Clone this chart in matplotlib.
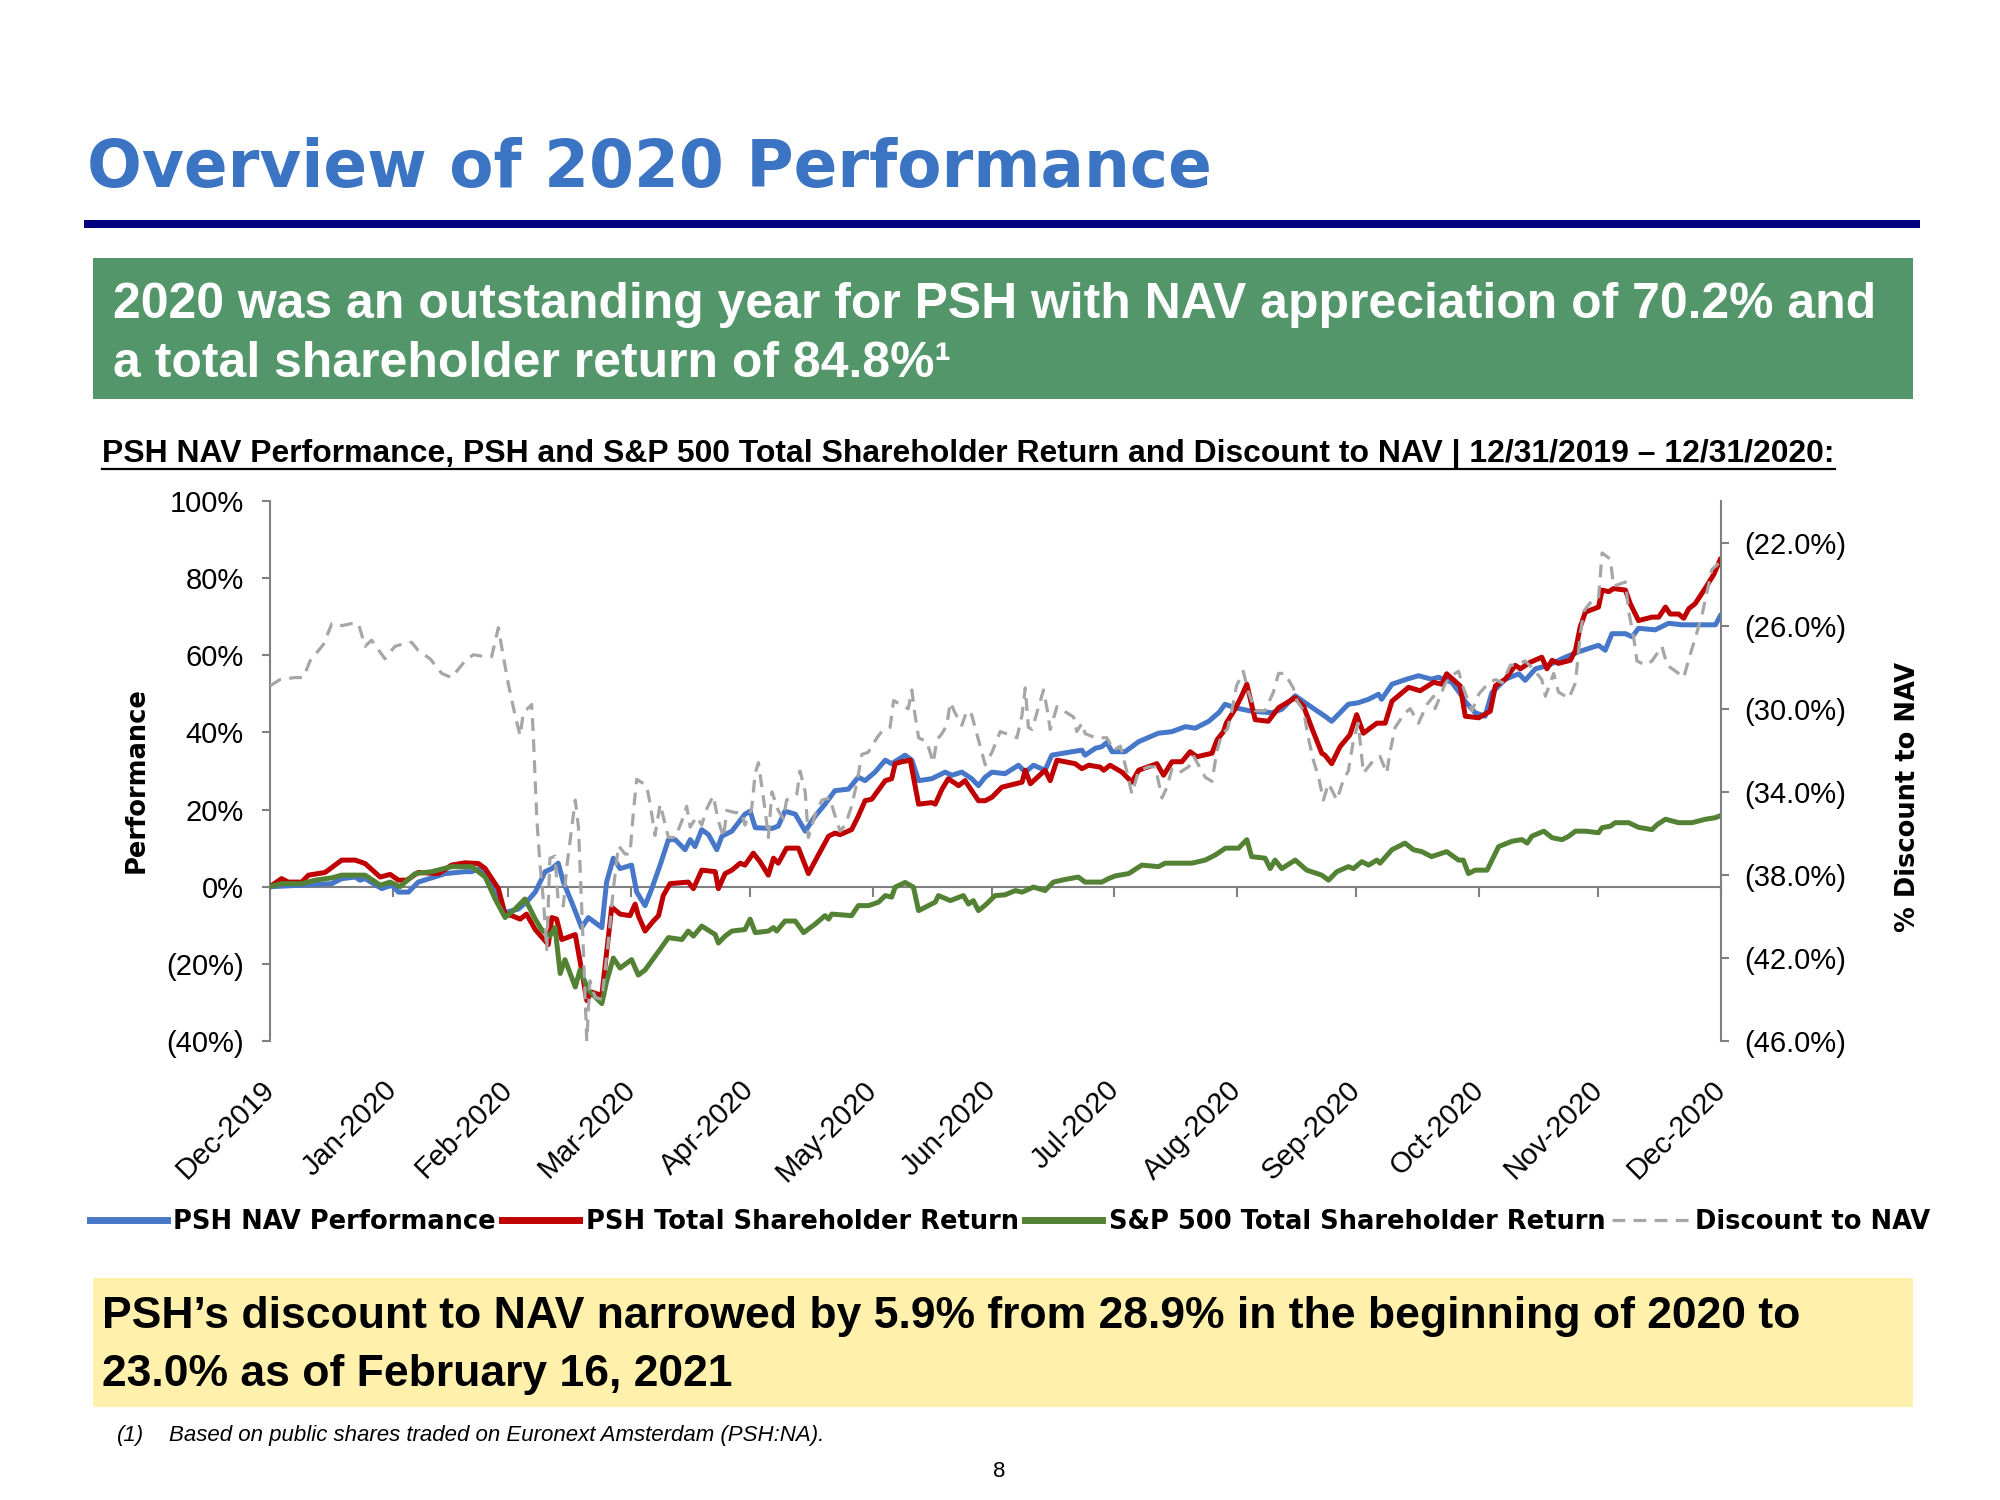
import numpy as np
import pandas as pd
import matplotlib
matplotlib.use('Agg')
import matplotlib.pyplot as plt
import matplotlib.dates as mdates
from matplotlib.patches import Rectangle
from matplotlib.lines import Line2D
from matplotlib.ticker import FuncFormatter

# days after 12/31/2019, value in %
nav_perf = [(0, 0), (8.0, 0.4), (15.6, 0.8), (18.1, 2.1), (21.5, 2.5), (22.7, 1.7), (24.0, 2.1), (28.2, -0.5),
            (30.7, 0.4), (32.4, -1.4), (34.9, -1.4), (37.4, 1.2), (44.2, 3.4), (49.2, 3.9), (50.9, 3.9),
            (52.6, 4.7), (54.3, 3.0), (57.6, -3.2),
            (59.3, -6.7), (62.6, -5.8), (64.7, -4.0), (66.9, -1.4), (69.4, 3.9), (71.1, 4.7), (72.7, 6.1),
            (74.0, 1.2), (76.1, -4.0), (78.6, -10.6), (80.3, -8.0), (83.7, -10.6), (84.9, 1.2), (86.6, 7.4),
            (88.3, 4.7), (91.2, 5.6), (92.5, -1.4), (94.6, -4.9), (96.3, -0.5), (98.4, 5.6), (100.5, 12.2),
            (102.2, 12.2), (104.7, 9.6), (106.0, 12.2), (107.2, 10.4), (108.9, 14.8), (110.6, 13.5),
            (112.7, 9.6), (114.0, 13.1), (116.5, 14.4),
            (119.8, 18.8), (121.1, 19.6), (122.4, 15.3), (126.6, 15.1), (128.2, 15.7), (129.9, 19.6),
            (132.5, 18.8), (135.0, 14.4), (137.5, 18.3), (140.0, 21.4), (142.5, 24.9), (145.9, 25.3),
            (148.4, 28.4), (150.1, 27.5), (152.6, 29.7), (155.2, 32.8), (156.8, 31.9), (160.2, 34.1),
            (161.9, 32.8), (163.6, 27.5), (166.9, 28.0), (170.3, 29.7), (172.0, 28.9), (174.5, 29.7),
            (177.0, 28.0), (178.7, 26.2),
            (180.4, 28.4), (182.1, 29.7), (185.4, 29.3), (188.8, 31.5), (190.5, 29.7), (192.6, 31.5),
            (195.5, 30.2), (197.2, 34.1), (202.3, 35.0), (204.8, 35.4), (205.6, 34.1), (208.2, 35.9),
            (209.8, 36.3), (211.1, 37.4), (212.4, 35.0), (215.7, 35.0), (219.1, 37.6), (224.1, 39.8),
            (227.5, 40.2), (230.9, 41.5), (233.4, 41.1), (236.8, 42.9), (239.3, 45.1),
            (240.9, 47.3), (243.4, 46.4), (247.6, 45.5), (252.7, 45.1), (255.2, 46.0), (258.6, 49.5),
            (261.1, 47.7), (266.1, 44.2), (267.8, 42.9), (272.0, 47.3), (274.5, 47.7), (277.1, 48.6),
            (279.6, 49.9), (280.4, 48.6), (283.0, 52.5), (286.7, 53.8), (289.7, 54.7), (293.0, 53.8),
            (294.7, 54.3), (298.1, 53.0), (300.6, 49.5),
            (301.5, 48.0), (304.0, 45.1), (306.5, 44.2), (308.2, 50.3), (311.6, 53.8), (315.0, 55.2),
            (316.6, 53.5), (319.2, 56.5), (322.5, 57.4), (326.7, 59.5), (330.1, 60.9), (335.1, 62.6),
            (336.8, 61.3), (338.5, 65.6), (341.9, 65.6), (343.6, 64.8), (345.2, 67.0), (349.4, 66.6),
            (352.8, 68.3), (356.2, 67.9), (364.6, 67.9), (365.8, 70.2)]

psh_tsr = [(0, 0), (2.9, 2.1), (4.6, 1.2), (8.0, 1.2), (9.7, 3.0), (13.9, 3.7), (18.1, 6.9), (21.5, 6.9),
           (24.0, 6.0), (27.8, 2.5), (30.3, 3.2), (32.4, 1.7), (34.5, 1.7), (37.4, 3.7), (42.5, 3.4),
           (45.8, 5.6), (49.2, 6.2), (52.6, 6.0), (54.3, 4.7), (57.6, -0.5),
           (59.3, -7.1), (61.0, -7.5), (63.1, -8.4), (64.7, -7.1), (66.9, -11.1), (70.2, -15.0),
           (71.1, -8.0), (72.3, -8.4), (73.6, -13.7), (77.0, -12.4), (78.6, -21.6), (79.9, -29.5),
           (81.1, -27.3), (83.7, -28.2), (84.5, -20.7), (86.2, -5.3), (88.3, -7.1), (90.8, -7.5),
           (92.1, -4.5), (92.9, -7.5), (94.6, -11.5), (96.7, -8.9), (98.0, -7.5), (99.2, -2.3),
           (100.9, 0.8), (105.5, 1.2), (106.8, -0.5), (108.9, 4.3), (112.3, 3.9), (113.1, -0.5),
           (114.8, 3.4), (116.5, 4.3), (118.6, 6.1),
           (119.8, 5.6), (121.9, 8.7), (123.6, 6.5), (125.7, 3.0), (127.0, 7.4), (128.2, 6.1), (130.3, 10.0),
           (133.3, 10.0), (135.8, 3.4), (138.3, 8.2), (140.9, 13.1), (142.5, 13.9), (143.8, 13.5),
           (146.7, 14.8), (148.4, 18.3), (150.1, 22.3), (151.8, 22.7), (155.2, 27.5), (156.8, 28.0),
           (157.7, 31.9), (159.4, 32.4), (161.5, 32.8), (163.6, 21.4), (166.9, 21.8), (167.8, 21.4),
           (169.5, 25.3), (171.1, 28.0), (173.7, 26.2), (175.3, 27.5), (178.7, 22.3),
           (180.4, 22.3), (182.1, 23.2), (184.6, 25.8), (189.7, 27.1), (190.5, 30.2), (191.8, 26.7),
           (195.5, 30.2), (196.8, 27.5), (198.5, 32.8), (203.1, 31.9), (204.8, 30.6), (206.5, 31.5),
           (209.4, 31.0), (210.3, 30.2), (211.9, 31.5), (214.9, 29.7), (217.4, 27.1), (219.1, 30.2),
           (223.7, 31.9), (225.4, 28.9), (227.5, 32.4), (230.0, 32.4), (232.1, 35.0), (233.8, 33.7),
           (237.6, 34.6), (238.9, 38.1), (240.5, 40.2),
           (241.2, 42.4), (243.4, 46.0), (245.1, 49.5), (246.4, 52.5), (248.5, 43.3), (251.8, 42.9),
           (254.4, 46.4), (258.6, 49.0), (260.7, 46.8), (262.8, 41.1), (265.3, 34.6), (266.1, 34.1),
           (267.8, 31.9), (269.9, 36.3), (272.4, 39.4), (274.1, 44.6), (275.8, 39.8), (279.2, 42.4),
           (281.3, 42.4), (283.0, 48.1), (287.2, 51.7), (290.1, 50.8), (293.5, 53.0), (295.6, 52.5),
           (296.8, 55.2), (300.2, 52.1),
           (301.5, 44.2), (304.9, 43.8), (307.8, 45.5), (309.1, 52.1), (311.6, 53.8), (314.1, 57.4),
           (315.4, 56.5), (317.9, 58.2), (320.8, 59.5), (322.1, 56.5), (323.4, 58.7), (325.0, 57.9),
           (328.0, 58.7), (329.3, 61.3), (330.5, 67.4), (331.8, 71.2), (335.1, 72.5), (336.0, 76.9),
           (337.7, 76.5), (338.9, 77.3), (341.9, 76.9), (343.1, 73.4), (345.2, 69.0), (348.6, 69.9),
           (350.3, 69.9), (352.0, 72.5), (353.2, 70.7), (355.3, 70.7), (356.6, 69.6), (357.9, 72.1),
           (359.5, 73.4), (362.1, 77.5), (364.2, 81.0), (365.8, 84.8)]

spx_tsr = [(0, 0), (2.9, 0.8), (8.0, 0.8), (11.4, 1.7), (15.6, 2.3), (18.1, 3.0), (24.0, 3.0), (27.8, 0.4),
           (30.3, 1.2), (32.8, 0.0), (36.6, 3.4), (40.8, 3.9), (45.8, 5.2), (50.9, 5.2), (54.3, 2.5),
           (56.8, -3.2),
           (59.3, -8.0), (61.8, -5.8), (64.3, -3.2), (65.2, -4.9), (66.9, -8.4), (68.5, -11.1),
           (70.6, -12.8), (71.9, -10.6), (73.2, -22.5), (74.4, -18.9), (77.0, -26.0), (78.2, -21.6),
           (80.3, -26.8), (83.7, -30.3), (84.9, -24.6), (86.6, -18.5), (88.3, -21.1), (91.2, -18.9),
           (92.9, -22.9), (94.6, -21.6), (98.0, -16.8), (100.5, -13.2), (103.9, -13.7), (105.5, -11.5),
           (106.8, -12.8), (108.9, -10.2), (112.3, -12.4), (113.1, -14.6), (114.8, -12.8), (116.5, -11.5),
           (119.8, -11.1), (121.1, -8.4), (122.4, -11.9), (125.7, -11.5), (127.0, -10.6), (127.8, -11.5),
           (129.9, -8.9), (132.5, -8.9), (134.6, -11.9), (137.5, -9.7), (140.0, -7.5), (140.9, -8.4),
           (141.7, -7.1), (146.7, -7.5), (148.4, -4.9), (151.0, -4.9), (153.5, -4.0), (155.2, -2.3),
           (156.8, -2.7), (157.7, -0.1), (160.2, 1.1), (162.3, -0.1), (163.6, -6.2), (167.8, -4.0),
           (168.6, -2.3), (171.6, -3.6), (174.9, -2.3), (176.2, -4.5), (177.4, -3.6), (178.7, -6.2),
           (180.4, -4.8), (182.9, -2.3), (185.4, -2.1), (188.0, -1.0), (189.7, -1.4), (192.6, -0.1),
           (195.5, -1.0), (197.6, 1.2), (200.6, 1.9), (203.9, 2.5), (205.6, 1.2), (209.8, 1.2),
           (211.5, 2.1), (213.2, 2.8), (216.6, 3.4), (219.9, 5.6), (224.1, 5.2), (225.8, 6.1),
           (232.5, 6.1), (235.9, 6.9), (238.4, 8.2), (241.0, 10.0),
           (244.3, 10.0), (246.4, 12.2), (247.6, 7.8), (251.0, 7.4), (252.3, 4.7), (253.5, 6.9),
           (255.2, 4.7), (258.6, 6.9), (261.5, 4.3), (265.3, 3.0), (267.0, 1.7), (269.1, 3.9),
           (272.0, 5.2), (273.3, 4.7), (275.4, 6.5), (277.1, 5.6), (279.2, 6.9), (280.0, 6.1),
           (283.0, 9.6), (286.3, 11.3), (288.4, 9.6), (290.5, 9.1), (293.0, 7.8), (296.8, 9.1),
           (299.8, 6.9), (301.0, 6.9),
           (302.3, 3.4), (304.0, 4.3), (307.0, 4.3), (309.9, 10.4), (313.3, 11.8), (315.8, 12.2),
           (317.1, 11.3), (318.3, 13.1), (321.3, 14.4), (323.4, 12.7), (325.9, 12.2), (327.6, 13.1),
           (329.3, 14.4), (331.8, 14.4), (335.1, 14.0), (336.0, 15.3), (338.1, 15.7), (339.3, 16.6),
           (342.7, 16.6), (345.2, 15.4), (348.6, 14.8), (349.9, 16.1), (352.0, 17.5), (355.3, 16.6),
           (358.7, 16.6), (362.1, 17.5), (364.6, 17.9), (365.8, 18.4)]

# discount to NAV (negative %), right axis
discount = [(0, -28.9), (2.5, -28.6), (6.3, -28.5), (8.4, -28.5), (10.1, -27.7), (13.5, -26.9), (15.6, -25.9),
            (18.1, -26.0), (20.6, -25.9), (22.3, -25.9), (24.0, -27.0), (25.6, -26.7), (29.0, -27.6),
            (31.5, -27.0), (33.2, -26.9), (35.7, -26.8), (37.4, -27.2), (40.4, -27.6), (43.3, -28.3),
            (45.8, -28.5), (49.2, -27.7), (51.3, -27.4), (54.3, -27.5), (55.9, -27.5), (57.6, -26.1),
            (58.5, -27.1),
            (60.1, -28.8), (61.8, -30.3), (63.1, -31.3), (63.9, -30.2), (66.0, -29.8), (66.4, -31.2),
            (67.3, -35.3), (68.1, -37.5), (69.0, -39.3), (69.8, -41.6), (70.6, -37.2), (71.9, -37.1),
            (72.7, -39.3), (74.0, -39.5), (74.8, -37.7), (77.0, -34.4), (77.8, -35.7), (78.8, -40.4),
            (79.9, -46.0), (80.7, -43.1), (82.0, -43.9), (83.7, -44.0), (85.4, -41.1), (86.6, -38.7),
            (87.9, -36.6), (89.6, -37.0), (90.8, -37.0), (91.7, -34.9), (92.5, -33.4), (95.0, -33.7),
            (95.9, -34.6), (97.1, -36.1), (98.4, -34.6), (99.2, -35.2), (100.5, -36.2), (102.2, -36.2),
            (103.9, -35.4), (105.1, -34.7), (106.0, -35.7), (107.6, -35.2), (108.9, -35.6), (110.2, -34.8),
            (111.8, -34.2), (113.1, -35.4), (114.4, -36.2), (115.2, -34.9), (117.3, -35.0), (119.0, -35.0),
            (119.8, -35.6), (121.5, -34.8), (122.4, -33.1), (123.2, -32.6), (124.0, -33.7), (124.9, -34.9),
            (125.7, -36.2), (126.6, -34.0), (128.2, -34.9), (129.5, -35.3), (130.3, -34.4), (132.9, -34.1),
            (133.7, -33.0), (135.0, -34.0), (135.8, -36.2), (137.5, -35.1), (139.2, -34.4), (141.3, -34.3),
            (142.1, -34.9), (143.8, -35.9), (145.1, -35.6), (146.7, -34.7), (148.0, -33.6), (149.3, -32.2),
            (150.9, -32.1), (153.1, -31.4), (154.3, -31.1), (156.4, -30.9), (157.3, -29.6), (158.9, -29.8),
            (161.0, -30.0), (161.9, -29.1), (162.7, -30.3), (163.6, -31.4), (165.7, -31.6), (167.3, -32.6),
            (168.2, -31.5), (169.5, -31.2), (170.7, -30.8), (171.6, -29.7), (172.8, -30.2), (174.5, -30.8),
            (175.8, -30.1), (177.0, -30.3), (178.7, -31.5),
            (180.4, -32.7), (182.1, -32.1), (184.2, -31.1), (187.1, -31.3), (188.4, -31.4), (189.7, -30.3),
            (190.5, -29.0), (191.3, -30.9), (192.2, -31.0), (193.9, -29.9), (195.1, -29.1), (196.0, -30.0),
            (196.8, -31.0), (198.5, -29.9), (202.7, -30.4), (203.5, -31.1), (204.8, -30.7), (205.6, -31.2),
            (208.2, -31.4), (211.1, -31.4), (212.8, -32.0), (214.5, -31.8), (216.1, -33.0), (217.4, -34.1),
            (219.1, -33.0), (221.6, -32.8), (223.3, -32.8), (225.0, -34.3), (226.2, -33.8), (227.5, -32.9),
            (229.2, -33.1), (231.7, -32.8), (233.0, -32.3), (235.9, -33.3), (237.6, -33.5), (238.9, -32.0),
            (240.1, -31.2),
            (241.5, -31.0), (242.6, -30.1), (243.8, -28.9), (245.5, -28.2), (246.8, -29.2), (248.5, -30.1),
            (251.0, -30.1), (253.1, -29.2), (254.4, -28.3), (256.0, -28.3), (258.1, -29.0), (259.0, -29.6),
            (260.7, -30.1), (261.9, -31.4), (263.2, -32.5), (264.5, -33.3), (265.7, -34.4), (267.0, -33.6),
            (269.1, -34.4), (270.8, -33.4), (272.0, -33.0), (273.3, -31.5), (274.5, -30.7), (275.8, -33.1),
            (278.3, -32.5), (280.0, -32.3), (281.7, -33.1), (282.5, -32.1), (283.8, -30.9), (286.3, -30.2),
            (287.6, -30.0), (289.7, -30.7), (291.8, -29.8), (293.5, -29.4), (293.9, -30.0), (296.4, -28.8),
            (298.1, -28.4), (299.8, -28.2), (301.0, -29.0),
            (303.2, -30.1), (304.9, -29.3), (307.4, -28.75), (309.1, -28.6), (310.8, -28.75), (312.9, -27.9),
            (314.1, -27.9), (316.6, -27.7), (318.7, -28.1), (320.8, -28.6), (321.7, -29.4), (323.8, -28.3),
            (325.0, -29.2), (327.6, -29.5), (329.3, -28.75), (330.5, -26.4), (331.4, -25.3), (333.0, -24.9),
            (335.1, -24.7), (336.0, -22.5), (338.1, -22.8), (338.9, -24.1), (341.9, -23.9), (342.7, -25.3),
            (344.0, -26.6), (344.8, -27.7), (346.9, -27.9), (348.6, -27.7), (351.1, -27.0), (352.4, -27.9),
            (355.3, -28.3), (356.6, -28.5), (357.9, -27.6), (359.5, -26.6), (361.2, -25.5), (363.7, -23.3),
            (365.4, -23.0)]

series_names = ['PSH NAV Performance', 'PSH Total Shareholder Return',
                'S&P 500 Total Shareholder Return', 'Discount to NAV']

start = pd.Timestamp('2019-12-31')
end = pd.Timestamp('2020-12-31')

TITLE_BLUE = '#3B74C2'
NAVY = '#000080'
BOX_GREEN = '#52966A'
BOX_YELLOW = '#FFF0AC'
NAV_BLUE = '#4677C8'
TSR_RED = '#C00000'
SPX_GREEN = '#548235'
DISC_GRAY = '#A6A6A6'
AXIS_GRAY = '#808080'

W, H = 2000, 1500
fig = plt.figure(figsize=(20, 15), dpi=100)
renderer = fig.canvas.get_renderer()


def fx(px):
    return px / W


def fy(py):
    return 1 - py / H


def fit_width(t, width_px):
    w = t.get_window_extent(renderer=renderer).width
    t.set_fontsize(t.get_fontsize() * width_px / w)


def to_xy(pairs):
    arr = np.array(pairs, dtype=float)
    return start + pd.to_timedelta(arr[:, 0], unit='D'), arr[:, 1]


# header
title = fig.text(fx(87), fy(187), 'Overview of 2020 Performance', family='DejaVu Sans',
                 fontweight='bold', fontsize=46, color=TITLE_BLUE, va='baseline')
fit_width(title, 1125)
fig.add_artist(Rectangle((fx(84), fy(228)), fx(1920 - 84), 8 / H, transform=fig.transFigure,
                         color=NAVY, lw=0))

# green banner
fig.add_artist(Rectangle((fx(93), fy(399)), fx(1820), 141 / H, transform=fig.transFigure,
                         color=BOX_GREEN, lw=0))
g1 = fig.text(fx(113), fy(318), '2020 was an outstanding year for PSH with NAV appreciation of 70.2% and',
              family='Liberation Sans', fontweight='bold', fontsize=30, color='white', va='baseline')
fit_width(g1, 1764)
fig.text(fx(113), fy(377), 'a total shareholder return of 84.8%\u00b9', family='Liberation Sans',
         fontweight='bold', fontsize=g1.get_fontsize(), color='white', va='baseline')

# chart subtitle with underline
sub = fig.text(fx(102), fy(462), 'PSH NAV Performance, PSH and S&P 500 Total Shareholder Return and '
               'Discount to NAV | 12/31/2019 \u2013 12/31/2020:',
               family='Liberation Sans', fontweight='bold', fontsize=24, va='baseline')
fit_width(sub, 1735)
bb = sub.get_window_extent(renderer=renderer)
fig.add_artist(Line2D([fx(bb.x0), fx(bb.x1)], [fy(469), fy(469)], transform=fig.transFigure,
                      color='black', lw=1.6))

# chart
ax = fig.add_axes([fx(270), fy(1041), fx(1721 - 270), (1041 - 501) / H])
ax2 = ax.twinx()

x, y = to_xy(nav_perf)
l1, = ax.plot(x, y, color=NAV_BLUE, lw=3.6, label=series_names[0], zorder=2)
x, y = to_xy(psh_tsr)
l2, = ax.plot(x, y, color=TSR_RED, lw=3.6, label=series_names[1], zorder=3)
x, y = to_xy(spx_tsr)
l3, = ax.plot(x, y, color=SPX_GREEN, lw=3.6, label=series_names[2], zorder=4)
x, y = to_xy(discount)
l4, = ax2.plot(x, y, color=DISC_GRAY, lw=2.3, dashes=(4, 2.6), label=series_names[3])

month_ends = pd.date_range(start, end, freq='ME')
ax.set_xlim(start, end)
ax.set_ylim(-40, 100)
ax.set_yticks(np.arange(-40, 101, 20))
ax.yaxis.set_major_formatter(FuncFormatter(lambda v, _: f'{v:.0f}%' if v >= 0 else f'({abs(v):.0f}%)'))
ax2.set_ylim(-46, -20)
ax2.set_yticks(np.arange(-46, -21, 4))
ax2.yaxis.set_major_formatter(FuncFormatter(lambda v, _: f'({abs(v):.1f}%)'))

for s in ['top', 'right', 'bottom']:
    ax.spines[s].set_visible(False)
for s in ['top', 'left', 'bottom']:
    ax2.spines[s].set_visible(False)
ax.spines['left'].set_color(AXIS_GRAY)
ax.spines['left'].set_linewidth(1.5)
ax2.spines['right'].set_color(AXIS_GRAY)
ax2.spines['right'].set_linewidth(1.5)

ax.tick_params(axis='y', length=6, width=1.5, color=AXIS_GRAY, pad=13, labelsize=21)
ax2.tick_params(axis='y', length=6, width=1.5, color=AXIS_GRAY, pad=11, labelsize=21)
for lbl in ax.get_yticklabels() + ax2.get_yticklabels():
    lbl.set_family('Liberation Sans')

# month labels at the bottom, rotated
ax.set_xticks(month_ends)
ax.xaxis.set_major_formatter(mdates.DateFormatter('%b-%Y'))
ax.tick_params(axis='x', length=0, pad=32, labelsize=21)
for lbl in ax.get_xticklabels():
    lbl.set_family('Liberation Sans')
    lbl.set_rotation(45)
    lbl.set_ha('right')
    lbl.set_va('center')
    lbl.set_rotation_mode('anchor')

# zero line with month ticks
zero = ax.secondary_xaxis(40 / 140)
zero.set_xticks(mdates.date2num(month_ends))
zero.tick_params(length=7, width=1.5, color=AXIS_GRAY, labelbottom=False)
zero.spines['bottom'].set_color(AXIS_GRAY)
zero.spines['bottom'].set_linewidth(1.5)

fig.text(fx(137), fy(780), 'Performance', rotation=90, ha='center', va='center',
         family='DejaVu Sans', fontweight='bold', fontsize=18.5)
fig.text(fx(1908), fy(797), '% Discount to NAV', rotation=90, ha='center', va='center',
         family='DejaVu Sans', fontweight='bold', fontsize=18.5)

leg = fig.legend([l1, l2, l3, l4], series_names, loc='center', bbox_to_anchor=(fx(1010), fy(1222)),
                 ncol=4, frameon=False, handlelength=3.0, handletextpad=0.25, columnspacing=0.25,
                 prop={'family': 'DejaVu Sans', 'weight': 'bold', 'size': 18.5})
for hl in leg.get_lines()[:3]:
    hl.set_linewidth(5)

# yellow takeaway box
fig.add_artist(Rectangle((fx(93), fy(1407)), fx(1820), 129 / H, transform=fig.transFigure,
                         color=BOX_YELLOW, lw=0))
y1 = fig.text(fx(102), fy(1328), 'PSH\u2019s discount to NAV narrowed by 5.9% from 28.9% in the beginning '
              'of 2020 to', family='Liberation Sans', fontweight='bold', fontsize=28, va='baseline')
fit_width(y1, 1696)
fig.text(fx(102), fy(1386), '23.0% as of February 16, 2021', family='Liberation Sans',
         fontweight='bold', fontsize=y1.get_fontsize(), va='baseline')

# footnote and page number
note = fig.text(fx(169), fy(1441), 'Based on public shares traded on Euronext Amsterdam (PSH:NA).',
                family='Liberation Sans', style='italic', fontsize=15, va='baseline')
fit_width(note, 657)
fig.text(fx(117), fy(1441), '(1)', family='Liberation Sans', style='italic',
         fontsize=note.get_fontsize(), va='baseline')
fig.text(fx(999), fy(1477), '8', family='Liberation Sans', fontsize=16, ha='center', va='baseline')

fig.savefig('out.png', dpi=100)
